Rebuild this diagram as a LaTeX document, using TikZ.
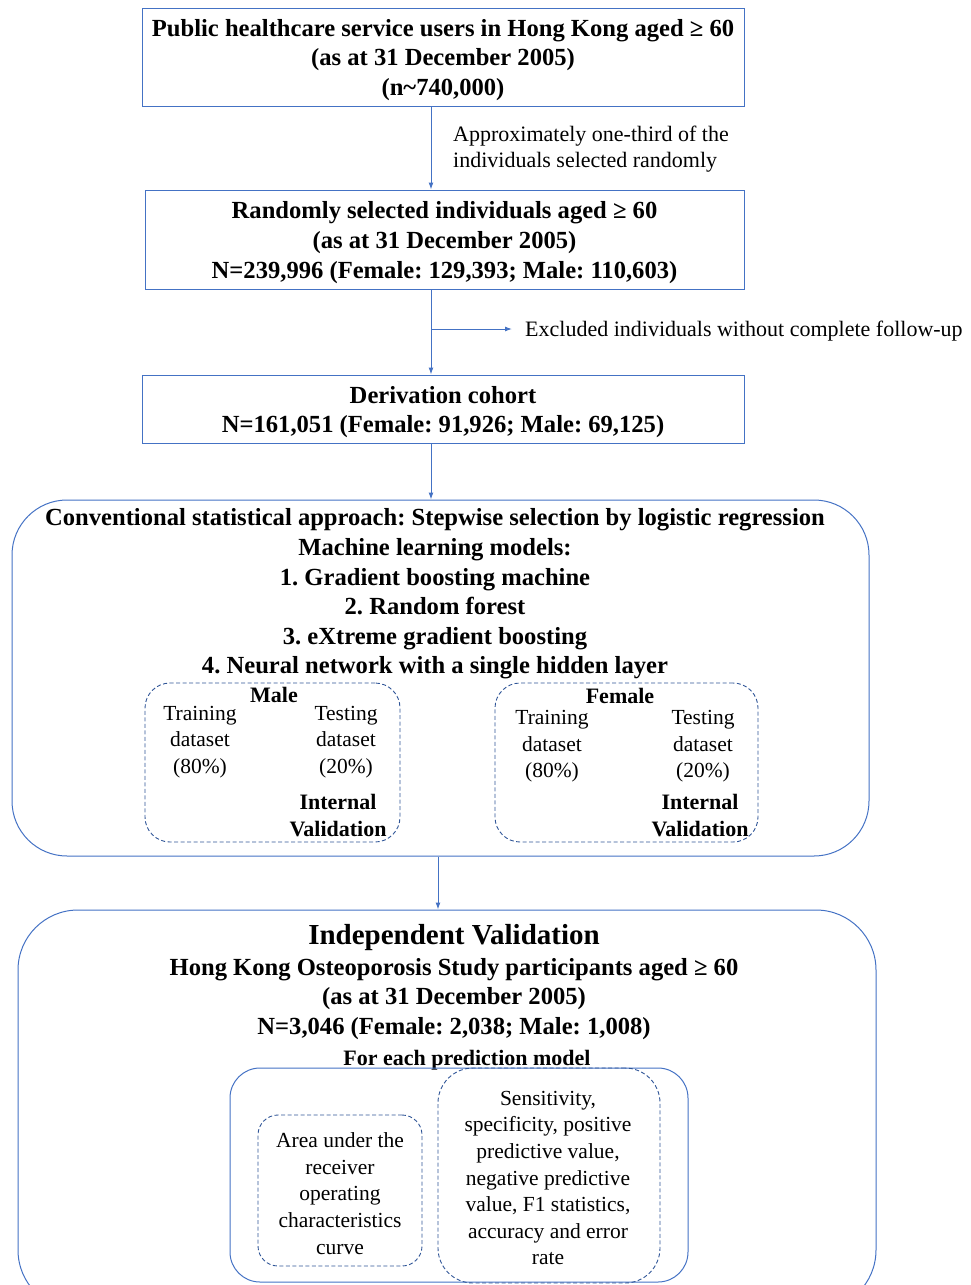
\documentclass[tikz,border=0pt]{standalone}
\usepackage{fontspec}
\setmainfont{Liberation Serif}
\usetikzlibrary{arrows.meta}
\definecolor{lineblue}{HTML}{4472C4}
\definecolor{dashblue}{HTML}{2F5597}
\frenchspacing
\begin{document}
\begin{tikzpicture}[x=1pt,y=-1pt,
	flowbox/.style={draw=lineblue,line width=1pt,align=center,inner sep=0pt,
		font=\fontsize{24.6}{29.5}\selectfont\bfseries},
	roundbox/.style={draw=lineblue,line width=1pt,inner sep=0pt},
	dashbox/.style={draw=dashblue,line width=0.9pt,dash pattern=on 4pt off 2.5pt,inner sep=0pt},
	headtext/.style={align=center,inner sep=0pt,yshift=-3pt,font=\fontsize{24.6}{29.6}\selectfont\bfseries},
	subhead/.style={align=center,inner sep=0pt,yshift=-2pt,font=\fontsize{22}{26.5}\selectfont\bfseries},
	plaintext/.style={align=center,inner sep=0pt,yshift=-2pt,font=\fontsize{21.5}{26.6}\selectfont},
	note/.style={align=left,inner sep=0pt,yshift=-2pt,font=\fontsize{22}{26}\selectfont},
	flow/.style={draw=lineblue,line width=1pt,-{Latex[length=7pt,width=5pt]}}]
\useasboundingbox (0,0) rectangle (971,1285);
\clip (0,0) rectangle (971,1285);
\coordinate (spine) at (431,0);
\coordinate (spinetwo) at (438,0);

% cohort selection
\node[flowbox,minimum width=602,minimum height=98] (users) at (443,57) {};
\node[headtext] (userstext) at (443,57)
	{Public healthcare service users in Hong Kong aged ≥ 60\\(as at 31 December 2005)\\(n\textasciitilde740,000)};
\node[flowbox,minimum width=599,minimum height=99] (random) at (444.5,239.5) {};
\node[headtext] (randomtext) at (444.5,239.5)
	{Randomly selected individuals aged ≥ 60\\(as at 31 December 2005)\\N=239,996 (Female: 129,393; Male: 110,603)};
\node[flowbox,minimum width=602,minimum height=68] (cohort) at (443,409) {};
\node[headtext] (cohorttext) at (443,409)
	{Derivation cohort\\N=161,051 (Female: 91,926; Male: 69,125)};
\node[note,anchor=west] (third) at (453,147)
	{Approximately one-third of the\\individuals selected randomly};
\node[note,anchor=west,inner xsep=13pt] (excluded) at (512,329)
	{Excluded individuals without complete follow-up};
\coordinate (branch) at (431,329);

\draw[flow] (users.south -| spine) -- (random.north -| spine);
\draw[flow] (random.south -| spine) -- (cohort.north -| spine);
\draw[flow] (branch) -- (branch -| excluded.west);

% model development
\node[roundbox,rounded corners=55pt,minimum width=857,minimum height=356] (models) at (440.5,678) {};
\node[headtext] (modeltext) at (435,591)
	{Conventional statistical approach: Stepwise selection by logistic regression\\
	Machine learning models:\\
	1. Gradient boosting machine\\
	2. Random forest\\
	3. eXtreme gradient boosting\\
	4. Neural network with a single hidden layer};
\draw[flow] (cohort.south -| spine) -- (models.north -| spine);

\node[dashbox,rounded corners=25pt,minimum width=255,minimum height=159] (male) at (272.5,762.5) {};
\node[subhead] (maletitle) at (274,693) {Male};
\node[plaintext] (maletrain) at (200,740) {Training\\dataset\\(80\%)};
\node[plaintext] (maletest) at (346,740) {Testing\\dataset\\(20\%)};
\node[subhead] (maleint) at (338,813.5) {Internal\\Validation};

\node[dashbox,rounded corners=25pt,minimum width=263,minimum height=159] (female) at (626.5,762.5) {};
\node[subhead] (femaletitle) at (620,694) {Female};
\node[plaintext] (femaletrain) at (552,744.5) {Training\\dataset\\(80\%)};
\node[plaintext] (femaletest) at (703,744.5) {Testing\\dataset\\(20\%)};
\node[subhead] (femaleint) at (700,813.5) {Internal\\Validation};

% independent validation
\node[roundbox,rounded corners=60pt,minimum width=858,minimum height=400] (validation) at (447,1110) {};
\draw[flow] (models.south -| spinetwo) -- (validation.north -| spinetwo);
\node[align=center,inner sep=0pt,yshift=-3pt,font=\fontsize{29}{34}\selectfont\bfseries] (valtitle) at (454,935)
	{Independent Validation};
\node[headtext] (valtext) at (454,996)
	{Hong Kong Osteoporosis Study participants aged ≥ 60\\(as at 31 December 2005)\\N=3,046 (Female: 2,038; Male: 1,008)};
\node[subhead] (permodel) at (467,1058) {For each prediction model};

\node[roundbox,rounded corners=30pt,minimum width=458,minimum height=214] (metrics) at (459,1175) {};
\node[dashbox,rounded corners=20pt,minimum width=164,minimum height=151] (auc) at (340,1190.5) {};
\node[plaintext] (auctext) at (340,1191.5)
	{Area under the\\receiver\\operating\\characteristics\\curve};
\node[dashbox,rounded corners=35pt,minimum width=222,minimum height=215] (other) at (549,1175.5) {};
\node[plaintext] (othertext) at (548,1176)
	{Sensitivity,\\specificity, positive\\predictive value,\\negative predictive\\value, F1 statistics,\\accuracy and error\\rate};
\end{tikzpicture}
\end{document}
